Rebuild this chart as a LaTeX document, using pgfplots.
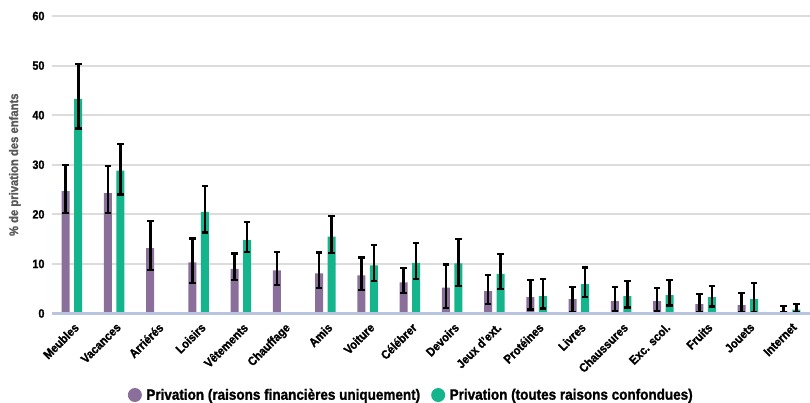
\documentclass[border=0pt]{standalone}
\usepackage{fontspec}
\setmainfont{Liberation Sans Bold}[FakeStretch=0.9, FakeBold=1.3]
\usepackage{pgfplots}
\pgfplotsset{compat=1.18}
\definecolor{purp}{HTML}{8B6F9B}
\definecolor{vert}{HTML}{14B48C}
\definecolor{grille}{HTML}{DCDCDC}
\definecolor{axe}{HTML}{B8C4E0}
\definecolor{gristxt}{HTML}{595959}
\begin{document}
\begin{tikzpicture}
\path[use as bounding box] (-52bp,-89.5bp) rectangle (758bp,297.5bp+16bp);
\begin{axis}[
    at={(0,0)}, anchor=south west,
    scale only axis,
    width=758bp, height=297.5bp,
    ybar=4.5bp, bar width=8bp,
    xmin=-0.473, xmax=17.473,
    ymin=0, ymax=60,
    ytick={0,10,...,60},
    xtick=data,
    xticklabels={Meubles,Vacances,Arriérés,Loisirs,Vêtements,Chauffage,Amis,Voiture,Célébrer,Devoirs,Jeux d'ext.,Protéines,Livres,Chaussures,Exc. scol.,Fruits,Jouets,Internet},
    x tick label style={rotate=45, anchor=north east, inner sep=1bp, xshift=-4bp, yshift=-6bp, font=\fontsize{12.3bp}{12bp}\selectfont},
    y tick label style={font=\fontsize{12bp}{12bp}\selectfont, xshift=-4bp},
    /pgf/number format/assume math mode=true,
    major tick length=0pt,
    axis line style={draw=none},
    ymajorgrids, grid style={grille, line width=2bp},
    ylabel={\% de privation des enfants},
    ylabel style={font=\fontsize{12.5bp}{12bp}\selectfont, text=gristxt, at={(axis description cs:-0.049,0.5)}, anchor=center},
    legend style={draw=none, at={(0.474,-0.274)}, anchor=center, legend columns=2,
        font=\fontsize{15bp}{16bp}\selectfont, /tikz/every even column/.append style={column sep=9bp}},
    legend image code/.code={\fill[#1] (0bp,0bp) circle (7bp); \path (9.5bp,0bp);},
    error bars/y dir=both, error bars/y explicit,
    error bars/error bar style={black, line width=2.6bp},
    error bars/error mark options={black, line width=2.4bp, mark size=3.3bp, rotate=90},
    clip=false,
]
\addplot[fill=purp, draw=none] coordinates {
    (0,24.7) += (0,5.3) -= (0,4.4)
    (1,24.3) += (0,5.5) -= (0,4.0)
    (2,13.2) += (0,5.4) -= (0,4.4)
    (3,10.3) += (0,4.8) -= (0,4.1)
    (4,9.0)  += (0,3.1) -= (0,2.2)
    (5,8.7)  += (0,3.7) -= (0,3.0)
    (6,8.1)  += (0,4.2) -= (0,3.0)
    (7,7.7)  += (0,3.6) -= (0,3.0)
    (8,6.3)  += (0,2.9) -= (0,2.2)
    (9,5.2)  += (0,4.7) -= (0,4.1)
    (10,4.5) += (0,3.3) -= (0,2.6)
    (11,3.3) += (0,3.5) -= (0,2.5)
    (12,2.9) += (0,2.5) -= (0,2.7)
    (13,2.5) += (0,2.8) -= (0,2.0)
    (14,2.5) += (0,2.7) -= (0,2.0)
    (15,1.9) += (0,2.0) -= (0,1.7)
    (16,1.7) += (0,2.4) -= (0,1.5)
    (17,0.4) += (0,1.1) -= (0,0.2)
};
\addplot[fill=vert, draw=none] coordinates {
    (0,43.3) += (0,7.0) -= (0,6.0)
    (1,28.8) += (0,5.4) -= (0,4.8)
    (3,20.5) += (0,5.2) -= (0,4.2)
    (4,14.8) += (0,3.6) -= (0,2.4)
    (6,15.5) += (0,4.2) -= (0,3.3)
    (7,9.7)  += (0,4.1) -= (0,3.1)
    (8,10.2) += (0,4.0) -= (0,3.2)
    (9,10.1) += (0,4.9) -= (0,4.5)
    (10,8.0) += (0,4.0) -= (0,3.0)
    (11,3.5) += (0,3.4) -= (0,2.5)
    (12,5.9) += (0,3.4) -= (0,2.6)
    (13,3.5) += (0,3.1) -= (0,2.3)
    (14,3.7) += (0,3.1) -= (0,2.1)
    (15,3.3) += (0,2.3) -= (0,1.9)
    (16,2.9) += (0,3.3) -= (0,2.6)
    (17,0.8) += (0,1.1) -= (0,0.5)
};
\legend{Privation (raisons financières uniquement),Privation (toutes raisons confondues)}
\draw[axe, line width=2.5bp] (rel axis cs:0,0) -- (rel axis cs:1,0);
\end{axis}
\end{tikzpicture}
\end{document}
